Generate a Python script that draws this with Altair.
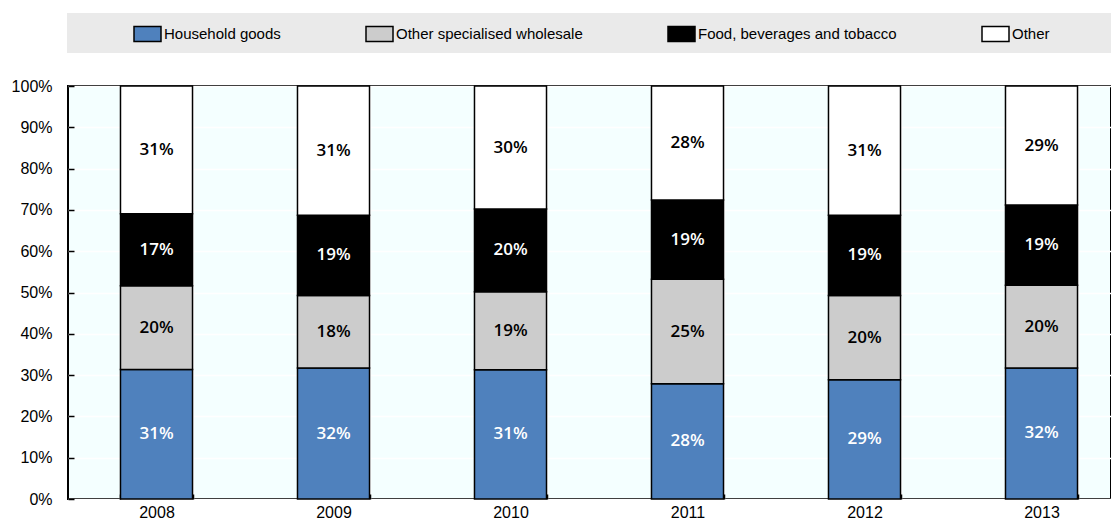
import altair as alt
import pandas as pd

years = ["2008", "2009", "2010", "2011", "2012", "2013"]
categories = ["Household goods", "Other specialised wholesale",
              "Food, beverages and tobacco", "Other"]
household = [31.3, 31.7, 31.3, 27.9, 28.8, 31.7]
other_specialised = [20.3, 17.6, 18.9, 25.3, 20.3, 20.0]
food = [17.4, 19.4, 20.0, 19.2, 19.4, 19.4]
other = [30.9, 31.3, 29.8, 27.6, 31.2, 28.8]
colors = ["#4F81BD", "#CCCCCC", "#000000", "#FFFFFF"]
text_colors = ["#FFFFFF", "#000000", "#FFFFFF", "#000000"]
y_ticks = [i / 10 for i in range(11)]

rows = []
for idx, (cat, vals) in enumerate(zip(categories, [household, other_specialised, food, other])):
    for yr, v in zip(years, vals):
        rows.append({"year": yr, "category": cat, "ord": idx, "value": v,
                     "label": f"{v:.0f}%", "tc": text_colors[idx]})
df = pd.DataFrame(rows)

W, H = 1043, 413
STEP_RANGE = 1062
AX_FONT = "Liberation Sans"

x_enc = alt.X(
    "year:N", sort=years,
    scale=alt.Scale(paddingInner=0.593, paddingOuter=0.2965, range=[0, STEP_RANGE]),
    axis=alt.Axis(title=None, labelAngle=0, domain=False, grid=True,
                  gridColor="white", gridWidth=1.5, tickBand="extent",
                  ticks=True, tickSize=5, tickColor="black", tickWidth=1.5,
                  offset=-5, labelPadding=5, labelFontSize=16,
                  labelFont=AX_FONT, labelColor="black"),
)
y_enc = alt.Y(
    "value:Q", stack="normalize", scale=alt.Scale(domain=[0, 1]),
    axis=alt.Axis(title=None, values=y_ticks, format=".0%", domain=False,
                  grid=True, gridColor="white", gridWidth=1.5,
                  ticks=True, tickSize=6, tickColor="black", tickWidth=1.5,
                  offset=-6, labelPadding=16, labelFontSize=16,
                  labelFont=AX_FONT, labelColor="black"),
)

band = alt.Chart(pd.DataFrame({"a": [0]})).mark_rect(color="#EAEAEA").encode(
    x=alt.value(-1), x2=alt.value(W + 20), y=alt.value(-73), y2=alt.value(-33)
)

bars = alt.Chart(df).mark_bar(stroke="black", strokeWidth=1.5).encode(
    x=x_enc,
    y=y_enc,
    color=alt.Color(
        "category:N",
        scale=alt.Scale(domain=categories, range=colors),
        legend=alt.Legend(
            orient="none", legendX=65, legendY=-67, direction="horizontal",
            title=None, symbolType="M-1,-0.556H1V0.556H-1Z", symbolSize=729,
            symbolStrokeColor="black", symbolStrokeWidth=1.5, symbolOpacity=1,
            labelFontSize=15, labelFont=AX_FONT, labelColor="black",
            labelLimit=400, labelOffset=2, columnPadding=82, padding=0,
        ),
    ),
    order=alt.Order("ord:Q", sort="ascending"),
)

texts = alt.Chart(df).mark_text(font="Open Sans", fontSize=17, fontWeight=600).encode(
    x=alt.X("year:N", sort=years),
    y=alt.Y("value:Q", stack="normalize", bandPosition=0.5),
    detail="category:N",
    order=alt.Order("ord:Q", sort="ascending"),
    text="label:N",
    fill=alt.Fill("tc:N", scale=None, legend=None),
)

chart = alt.layer(band, bars, texts).properties(
    width=W, height=H,
    autosize=alt.AutoSizeParams(type="none"),
    padding={"left": 60, "top": 78, "right": 0, "bottom": 22},
    background="white",
).configure_view(fill="#F4FFFF", stroke="black", strokeWidth=2)

chart.save("out.html", embed_options={"renderer": "svg", "actions": False})
